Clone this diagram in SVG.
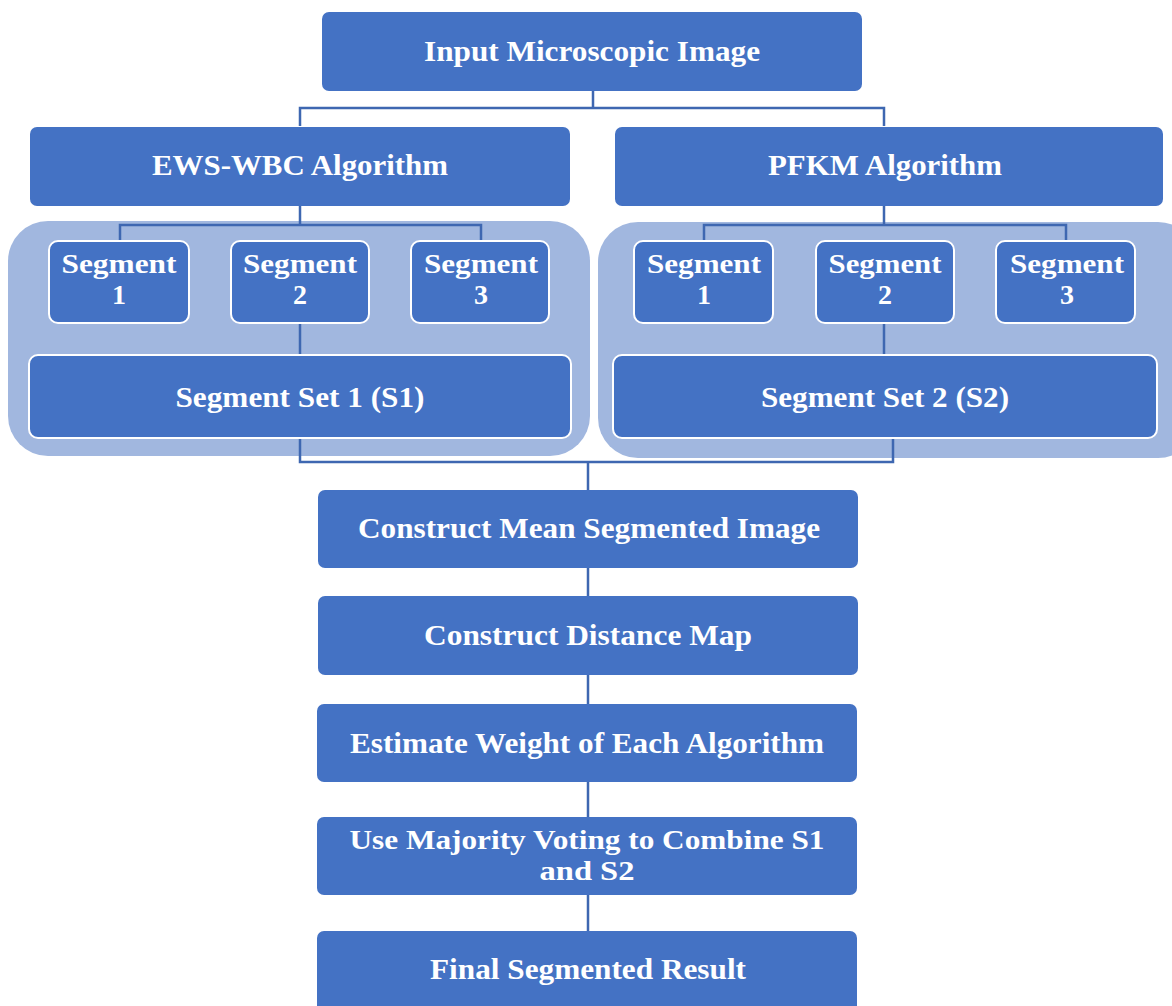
<svg xmlns="http://www.w3.org/2000/svg" width="1172" height="1006" viewBox="0 0 1172 1006">
<style>
.box{fill:#4472C4;}
.seg{fill:#4472C4;stroke:#FFFFFF;stroke-width:2;}
.grp{fill:#A1B7DF;}
.t{font-family:"Liberation Serif","Times New Roman",serif;font-weight:bold;font-size:29px;fill:#FFFFFF;text-anchor:middle;}
.t2{font-size:28px;}
.c{fill:none;stroke:#3E67B1;stroke-width:2.5;}
</style>
<rect width="1172" height="1006" fill="#FFFFFF"/>
<g id="containers">
<rect class="grp" x="8" y="221" width="582" height="235" rx="40"/>
<rect class="grp" x="598" y="222" width="600" height="236" rx="40"/>
</g>
<g id="connectors">
<path class="c" d="M593 91 V108 M300 126 V108 H884 V126"/>
<path class="c" d="M300 206 V225 M120 241 V225 H481 V241 M300 323 V355"/>
<path class="c" d="M884 206 V225 M704 241 V225 H1066 V241 M884 323 V355"/>
<path class="c" d="M300 438 V462 H893 V438 M588 462 V490"/>
<path class="c" d="M588 568 V596 M588 675 V704 M588 782 V817 M588 895 V931"/>
</g>
<g id="input"><rect class="box" x="322" y="12" width="540" height="79" rx="7"/><text class="t" x="592" y="61" textLength="336" lengthAdjust="spacingAndGlyphs">Input Microscopic Image</text></g>
<g id="ews"><rect class="box" x="30" y="127" width="540" height="79" rx="7"/><text class="t" x="300" y="175" textLength="296" lengthAdjust="spacingAndGlyphs">EWS-WBC Algorithm</text></g>
<g id="pfkm"><rect class="box" x="615" y="127" width="548" height="79" rx="7"/><text class="t" x="885" y="175" textLength="234" lengthAdjust="spacingAndGlyphs">PFKM Algorithm</text></g>
<g id="s1seg1"><rect class="seg" x="49" y="241" width="140" height="82" rx="9"/><text class="t t2"><tspan x="119" y="273" textLength="115" lengthAdjust="spacingAndGlyphs">Segment</tspan><tspan x="119" y="304">1</tspan></text></g>
<g id="s1seg2"><rect class="seg" x="231" y="241" width="138" height="82" rx="9"/><text class="t t2"><tspan x="300" y="273" textLength="114" lengthAdjust="spacingAndGlyphs">Segment</tspan><tspan x="300" y="304">2</tspan></text></g>
<g id="s1seg3"><rect class="seg" x="411" y="241" width="138" height="82" rx="9"/><text class="t t2"><tspan x="481" y="273" textLength="114" lengthAdjust="spacingAndGlyphs">Segment</tspan><tspan x="481" y="304">3</tspan></text></g>
<g id="set1"><rect class="seg" x="29" y="355" width="542" height="83" rx="9"/><text class="t" x="300" y="407" textLength="249" lengthAdjust="spacingAndGlyphs">Segment Set 1 (S1)</text></g>
<g id="s2seg1"><rect class="seg" x="634" y="241" width="139" height="82" rx="9"/><text class="t t2"><tspan x="704" y="273" textLength="114" lengthAdjust="spacingAndGlyphs">Segment</tspan><tspan x="704" y="304">1</tspan></text></g>
<g id="s2seg2"><rect class="seg" x="816" y="241" width="138" height="82" rx="9"/><text class="t t2"><tspan x="885" y="273" textLength="113" lengthAdjust="spacingAndGlyphs">Segment</tspan><tspan x="885" y="304">2</tspan></text></g>
<g id="s2seg3"><rect class="seg" x="996" y="241" width="139" height="82" rx="9"/><text class="t t2"><tspan x="1067" y="273" textLength="114" lengthAdjust="spacingAndGlyphs">Segment</tspan><tspan x="1067" y="304">3</tspan></text></g>
<g id="set2"><rect class="seg" x="613" y="355" width="544" height="83" rx="9"/><text class="t" x="885" y="407" textLength="248" lengthAdjust="spacingAndGlyphs">Segment Set 2 (S2)</text></g>
<g id="mean"><rect class="box" x="318" y="490" width="540" height="78" rx="7"/><text class="t" x="589" y="538" textLength="462" lengthAdjust="spacingAndGlyphs">Construct Mean Segmented Image</text></g>
<g id="dist"><rect class="box" x="318" y="596" width="540" height="79" rx="7"/><text class="t" x="588" y="645" textLength="328" lengthAdjust="spacingAndGlyphs">Construct Distance Map</text></g>
<g id="weight"><rect class="box" x="317" y="704" width="540" height="78" rx="7"/><text class="t" x="587" y="753" textLength="474" lengthAdjust="spacingAndGlyphs">Estimate Weight of Each Algorithm</text></g>
<g id="vote"><rect class="box" x="317" y="817" width="540" height="78" rx="7"/><text class="t t2"><tspan x="587" y="849" textLength="475" lengthAdjust="spacingAndGlyphs">Use Majority Voting to Combine S1</tspan><tspan x="587" y="880" textLength="95" lengthAdjust="spacingAndGlyphs">and S2</tspan></text></g>
<g id="final"><rect class="box" x="317" y="931" width="540" height="90" rx="7"/><text class="t" x="588" y="979" textLength="316" lengthAdjust="spacingAndGlyphs">Final Segmented Result</text></g>
</svg>
